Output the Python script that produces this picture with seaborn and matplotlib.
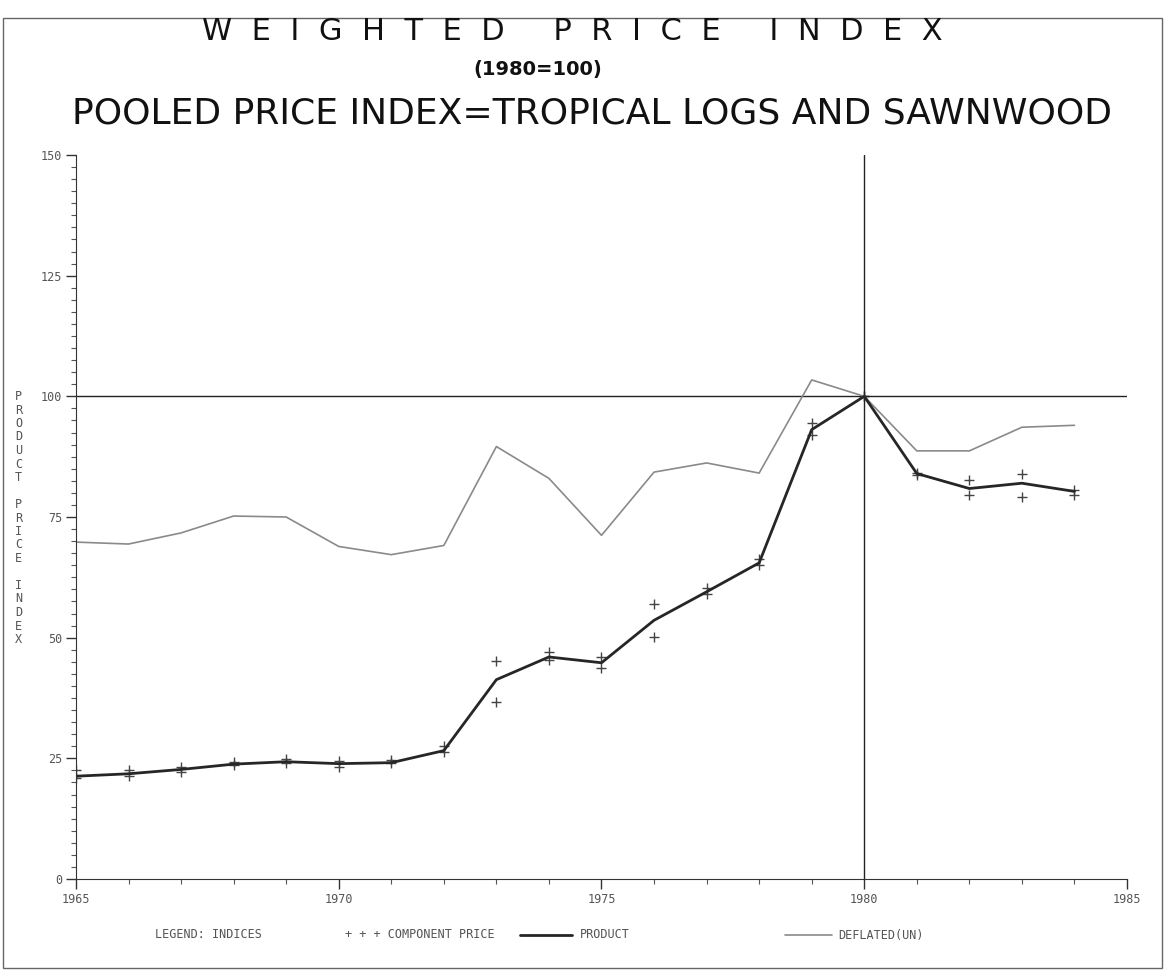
import numpy as np
import pandas as pd
import matplotlib
matplotlib.use("Agg")
import matplotlib.pyplot as plt
from matplotlib.lines import Line2D
from matplotlib.patches import Rectangle
from matplotlib.ticker import MultipleLocator
import seaborn as sns

years = list(range(1965, 1985))
product = [21.3, 21.8, 22.7, 23.8, 24.3, 23.9, 24.1, 26.6, 41.3, 46.0,
           44.8, 53.6, 59.5, 65.5, 93.1, 100.0, 84.0, 80.9, 82.0, 80.3]
deflated = [69.8, 69.4, 71.7, 75.2, 75.0, 68.9, 67.2, 69.1, 89.6, 83.0,
            71.2, 84.3, 86.2, 84.1, 103.4, 100.0, 88.7, 88.7, 93.6, 94.0]
component_a = [22.5, 22.6, 23.2, 24.2, 24.8, 24.5, 24.6, 27.5, 45.2, 47.0,
               46.0, 56.9, 60.2, 66.2, 94.5, 100.0, 84.2, 82.6, 84.0, 80.6]
component_b = [21.0, 21.4, 22.2, 23.6, 24.0, 23.3, 24.0, 26.4, 36.7, 45.4,
               43.7, 50.2, 59.0, 65.0, 92.0, 100.0, 83.6, 79.5, 79.1, 79.6]

x_ticks = [1965, 1970, 1975, 1980, 1985]
y_ticks = [0, 25, 50, 75, 100, 125, 150]

df_lines = pd.DataFrame({"year": years, "PRODUCT": product, "DEFLATED(UN)": deflated})
df_comp = pd.DataFrame({"year": years + years, "value": component_a + component_b})

sns.set_style("ticks")
plt.rcParams["font.family"] = ["DejaVu Sans"]

fig = plt.figure(figsize=(11.65, 9.73), dpi=100)
ax = fig.add_axes([0.0652, 0.0966, 0.9022, 0.7441])

sns.lineplot(data=df_lines, x="year", y="DEFLATED(UN)", ax=ax, color="#8a8a8a", linewidth=1.2)
sns.lineplot(data=df_lines, x="year", y="PRODUCT", ax=ax, color="#262626", linewidth=2.0)
sns.scatterplot(data=df_comp, x="year", y="value", ax=ax, marker="+", color="#444444",
                s=45, linewidth=1.0)

ax.axhline(100, color="#222222", linewidth=1.0, zorder=1)
ax.axvline(1980, color="#222222", linewidth=1.0, zorder=1)

ax.set_xlim(1965, 1985)
ax.set_ylim(0, 150)
ax.set_xticks(x_ticks)
ax.set_yticks(y_ticks)
ax.xaxis.set_minor_locator(MultipleLocator(1))
ax.yaxis.set_minor_locator(MultipleLocator(2.5))
ax.tick_params(axis="both", which="major", length=7, width=1, color="#333333",
               labelsize=8.5, labelcolor="#555555")
ax.tick_params(axis="both", which="minor", length=3.5, width=0.8, color="#555555")
for lab in ax.get_xticklabels() + ax.get_yticklabels():
    lab.set_family("DejaVu Sans Mono")
ax.tick_params(axis="x", pad=3)
ax.tick_params(axis="y", pad=3)
sns.despine(ax=ax)
ax.spines["left"].set_color("#333333")
ax.spines["bottom"].set_color("#333333")
ax.set_xlabel("")
ax.set_ylabel("")

# stacked y label
fig.text(0.016, 1 - 518 / 973,
         "\n".join("PRODUCT") + "\n\n" + "\n".join("PRICE") + "\n\n" + "\n".join("INDEX"),
         ha="center", va="center", fontsize=8.5, family="DejaVu Sans Mono",
         color="#555555", linespacing=1.05)

# titles
fig.text(0.491, 0.968, "W  E  I  G  H  T  E  D     P  R  I  C  E     I  N  D  E  X",
         ha="center", va="center", fontsize=22, color="#111111")
fig.text(0.462, 0.929, "(1980=100)", ha="center", va="center", fontsize=14,
         fontweight="bold", color="#111111")
fig.text(0.508, 0.883, "POOLED PRICE INDEX=TROPICAL LOGS AND SAWNWOOD", ha="center",
         va="center", fontsize=26, color="#111111")

# legend row
ly = 1 - 935 / 973
fs = 8.5
fig.text(155 / 1165, ly, "LEGEND: INDICES", ha="left", va="center", fontsize=fs,
         family="DejaVu Sans Mono", color="#555555")
fig.text(345 / 1165, ly, "+ + + COMPONENT PRICE", ha="left", va="center", fontsize=fs,
         family="DejaVu Sans Mono", color="#555555")
fig.add_artist(Line2D([520 / 1165, 572 / 1165], [ly, ly], color="#262626", linewidth=2.0,
                      transform=fig.transFigure))
fig.text(580 / 1165, ly, "PRODUCT", ha="left", va="center", fontsize=fs,
         family="DejaVu Sans Mono", color="#555555")
fig.add_artist(Line2D([785 / 1165, 832 / 1165], [ly, ly], color="#8a8a8a", linewidth=1.2,
                      transform=fig.transFigure))
fig.text(838 / 1165, ly, "DEFLATED(UN)", ha="left", va="center", fontsize=fs,
         family="DejaVu Sans Mono", color="#555555")

# page frame
fig.add_artist(Rectangle((0.003, 0.005), 0.994, 0.977, fill=False, edgecolor="#666666",
                         linewidth=1.0, transform=fig.transFigure))

fig.savefig("out.png", dpi=100)
